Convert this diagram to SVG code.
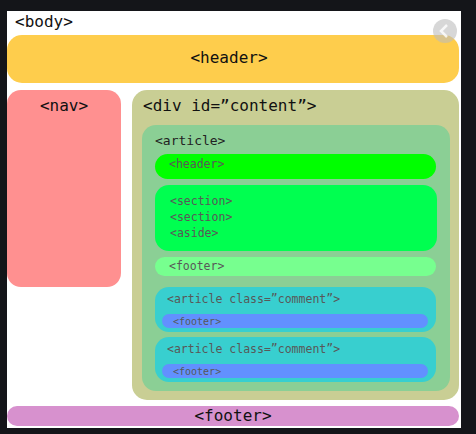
<svg xmlns="http://www.w3.org/2000/svg" width="476" height="434" viewBox="0 0 476 434">
<style>
text{font-family:"DejaVu Sans Mono","Liberation Mono",monospace;}
.big{font-size:16px;fill:#111;}
.mid{font-size:13px;fill:#222;}
.sm{font-size:11.5px;fill:#585858;}
.xs{font-size:10px;fill:#585858;}
</style>
<rect x="0" y="0" width="476" height="434" fill="#141519"/>
<rect x="7" y="11" width="454" height="417" fill="#ffffff"/>
<g id="body"><text class="big" x="15" y="27">&lt;body&gt;</text></g>
<g id="header"><rect x="7" y="35" width="452" height="48" rx="15" fill="#FECD4C"/><text class="big" x="229" y="63" text-anchor="middle">&lt;header&gt;</text></g>
<g id="nav"><rect x="7" y="90" width="114" height="197" rx="14" fill="#FF9090"/><text class="big" x="64" y="111" text-anchor="middle">&lt;nav&gt;</text></g>
<g id="content"><rect x="132" y="90" width="327" height="310" rx="15" fill="#C9CE94"/><text class="big" x="143" y="111">&lt;div id=”content”&gt;</text></g>
<g id="article"><rect x="142" y="125" width="308" height="266" rx="14" fill="#8BCF95"/><text class="mid" x="155" y="145">&lt;article&gt;</text></g>
<g id="article-header"><rect x="155" y="154" width="281" height="25" rx="12.5" fill="#00FF00"/><text class="sm" x="169" y="168">&lt;header&gt;</text></g>
<g id="sections"><rect x="155" y="185" width="282" height="66" rx="14" fill="#00FF50"/><text class="sm" x="170" y="205">&lt;section&gt;</text><text class="sm" x="170" y="221">&lt;section&gt;</text><text class="sm" x="170" y="237">&lt;aside&gt;</text></g>
<g id="article-footer"><rect x="155" y="257" width="281" height="19" rx="9.5" fill="#77FF8F"/><text class="sm" x="169" y="270">&lt;footer&gt;</text></g>
<g id="comment1"><rect x="155" y="287" width="281" height="45" rx="14" fill="#38CFCF"/><text class="sm" x="167" y="303">&lt;article class=”comment”&gt;</text><rect x="162" y="314" width="266" height="14" rx="7" fill="#6290FF"/><text class="xs" x="173" y="324.5">&lt;footer&gt;</text></g>
<g id="comment2"><rect x="155" y="337" width="281" height="45" rx="14" fill="#38CFCF"/><text class="sm" x="167" y="353">&lt;article class=”comment”&gt;</text><rect x="162" y="364" width="266" height="14" rx="7" fill="#6290FF"/><text class="xs" x="173" y="374.5">&lt;footer&gt;</text></g>
<g id="footer"><rect x="7" y="406" width="452" height="20" rx="10" fill="#D791CE"/><text class="big" x="233" y="421" text-anchor="middle">&lt;footer&gt;</text></g>
<g id="connectors"></g>
<g id="scroll-button"><circle cx="445" cy="31" r="12" fill="#bdbdbd" fill-opacity="0.6"/><path d="M447 25 L441 31 L447 37" fill="none" stroke="#ffffff" stroke-opacity="0.8" stroke-width="2.5"/></g>
</svg>
